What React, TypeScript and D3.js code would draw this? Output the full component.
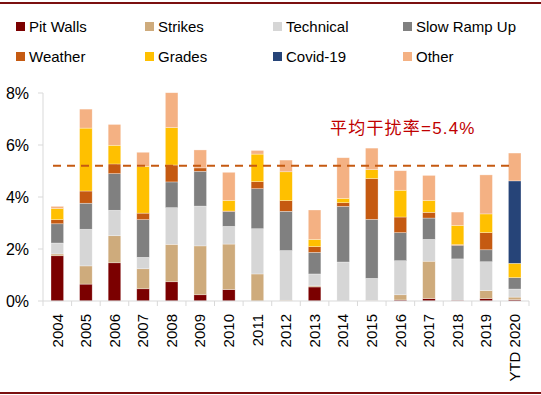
import * as d3 from "d3";
import { useEffect, useRef } from "react";

// data (percent)
const categories = ["2004", "2005", "2006", "2007", "2008", "2009", "2010", "2011", "2012", "2013", "2014", "2015", "2016", "2017", "2018", "2019", "YTD 2020"];
const pitWalls = [1.74, 0.65, 1.47, 0.47, 0.74, 0.24, 0.44, 0, 0, 0.54, 0, 0, 0.04, 0.09, 0.03, 0.09, 0.05];
const strikes = [0.07, 0.7, 1.04, 0.77, 1.44, 1.88, 1.75, 1.04, 0.03, 0.04, 0, 0.02, 0.2, 1.44, 0, 0.31, 0.1];
const technical = [0.42, 1.41, 0.98, 0.44, 1.41, 1.53, 0.68, 1.74, 1.91, 0.46, 1.5, 0.85, 1.31, 0.84, 1.59, 1.11, 0.31];
const slowRampUp = [0.74, 1.0, 1.41, 1.45, 0.99, 1.34, 0.57, 1.54, 1.51, 0.83, 2.14, 2.27, 1.08, 0.82, 0.52, 0.46, 0.44];
const weather = [0.16, 0.47, 0.37, 0.25, 0.65, 0.13, 0.02, 0.27, 0.41, 0.22, 0.14, 1.57, 0.6, 0.22, 0.03, 0.66, 0];
const grades = [0.43, 2.42, 0.72, 1.8, 1.44, 0, 0.41, 1.06, 1.11, 0.28, 0.17, 0.34, 1.03, 0.46, 0.74, 0.72, 0.55];
const covid = [0, 0, 0, 0, 0, 0, 0, 0, 0, 0, 0, 0, 0, 0, 0, 0, 3.17];
const other = [0.08, 0.73, 0.8, 0.54, 1.34, 0.69, 1.08, 0.14, 0.45, 1.13, 1.56, 0.83, 0.75, 0.96, 0.51, 1.5, 1.07];

const seriesNames = ["Pit Walls", "Strikes", "Technical", "Slow Ramp Up", "Weather", "Grades", "Covid-19", "Other"];
const seriesValues = [pitWalls, strikes, technical, slowRampUp, weather, grades, covid, other];
const colors = ["#7B0000", "#CEAB7C", "#D6D6D6", "#808080", "#C55A11", "#FFC000", "#264478", "#F4B183"];

const yTicks = [0, 2, 4, 6, 8];
const average = 5.2;
const avgLabel = "平均干扰率=5.4%";

const width = 541;
const height = 395;
const plot = { left: 43, right: 529, top: 93, bottom: 301 };

export default function App() {
  const ref = useRef<HTMLDivElement>(null);

  useEffect(() => {
    if (!ref.current) return;

    const svg = d3
      .select(ref.current)
      .append("svg")
      .attr("width", width)
      .attr("height", height)
      .style("position", "absolute")
      .style("left", 0)
      .style("top", 0)
      .style("font-family", "'Liberation Sans', Arial, sans-serif");

    const rows = categories.map((c, i) => {
      const r: any = { cat: c };
      seriesNames.forEach((s, j) => (r[s] = seriesValues[j][i]));
      return r;
    });
    const stacked = d3.stack().keys(seriesNames)(rows);

    const x = d3
      .scaleBand()
      .domain(categories)
      .range([plot.left, plot.right])
      .paddingInner(0.56)
      .paddingOuter(0.28);

    const y = d3.scaleLinear().domain([0, 8]).range([plot.bottom, plot.top]);

    // frame lines top & bottom
    [3, 393].forEach((yy) => {
      svg.append("line").attr("x1", 0).attr("x2", width).attr("y1", yy).attr("y2", yy)
        .attr("stroke", "#7B1010").attr("stroke-width", 2);
    });

    // legend
    const legend = svg.append("g");
    seriesNames.forEach((s, i) => {
      const lx = [16, 145, 273, 403][i % 4];
      const ly = i < 4 ? 27 : 57;
      legend.append("rect").attr("x", lx).attr("y", ly - 5).attr("width", 9).attr("height", 9).attr("fill", colors[i]);
      legend.append("text").attr("x", lx + 13).attr("y", ly).attr("dy", "0.35em")
        .attr("font-size", 15).attr("fill", "#000").text(s);
    });

    // bars
    svg
      .append("g")
      .selectAll("g")
      .data(stacked)
      .join("g")
      .attr("fill", (_d, i) => colors[i])
      .selectAll("rect")
      .data((d) => d)
      .join("rect")
      .attr("x", (d: any) => x(d.data.cat)!)
      .attr("y", (d) => y(d[1]))
      .attr("height", (d) => Math.max(0, y(d[0]) - y(d[1])))
      .attr("width", x.bandwidth())
      .attr("stroke", "#fff")
      .attr("stroke-opacity", 0.5)
      .attr("stroke-width", (d) => (d[1] - d[0] > 0 ? 0.6 : 0));

    // y axis
    const axisColor = "#D9D9D9";
    svg.append("line").attr("x1", plot.left).attr("x2", plot.left).attr("y1", plot.top).attr("y2", plot.bottom)
      .attr("stroke", axisColor);
    yTicks.forEach((t) => {
      svg.append("line").attr("x1", plot.left - 5).attr("x2", plot.left).attr("y1", y(t)).attr("y2", y(t))
        .attr("stroke", axisColor);
      svg.append("text").attr("x", 29).attr("y", y(t)).attr("dy", "0.35em").attr("text-anchor", "end")
        .attr("font-size", 16).attr("fill", "#000").text(`${t}%`);
    });

    // x axis
    svg.append("line").attr("x1", plot.left).attr("x2", plot.right).attr("y1", plot.bottom).attr("y2", plot.bottom)
      .attr("stroke", axisColor);
    d3.range(categories.length + 1).forEach((i) => {
      const tx = plot.left + i * x.step();
      svg.append("line").attr("x1", tx).attr("x2", tx).attr("y1", plot.bottom).attr("y2", plot.bottom + 5)
        .attr("stroke", axisColor);
    });
    categories.forEach((c) => {
      const cx = x(c)! + x.bandwidth() / 2;
      svg.append("text")
        .attr("transform", `translate(${cx},${314}) rotate(-90)`)
        .attr("text-anchor", "end").attr("dy", "0.35em")
        .attr("font-size", 15).attr("fill", "#000").text(c);
    });

    // average line + label
    svg.append("line")
      .attr("x1", x(categories[0])! + 2).attr("x2", x(categories[categories.length - 1])! + x.bandwidth() - 10)
      .attr("y1", y(average)).attr("y2", y(average))
      .attr("stroke", "#C55A11").attr("stroke-width", 2).attr("stroke-dasharray", "8,6");
    svg.append("text")
      .attr("x", 330).attr("y", 128).attr("dy", "0.35em")
      .attr("font-size", 17).attr("fill", "#C00000")
      .attr("letter-spacing", 1.2)
      .style("font-family", "'Liberation Sans', 'Noto Sans CJK SC', sans-serif")
      .text(avgLabel);

    return () => {
      d3.select(ref.current).selectAll("*").remove();
    };
  }, []);

  return <div ref={ref} />;
}
